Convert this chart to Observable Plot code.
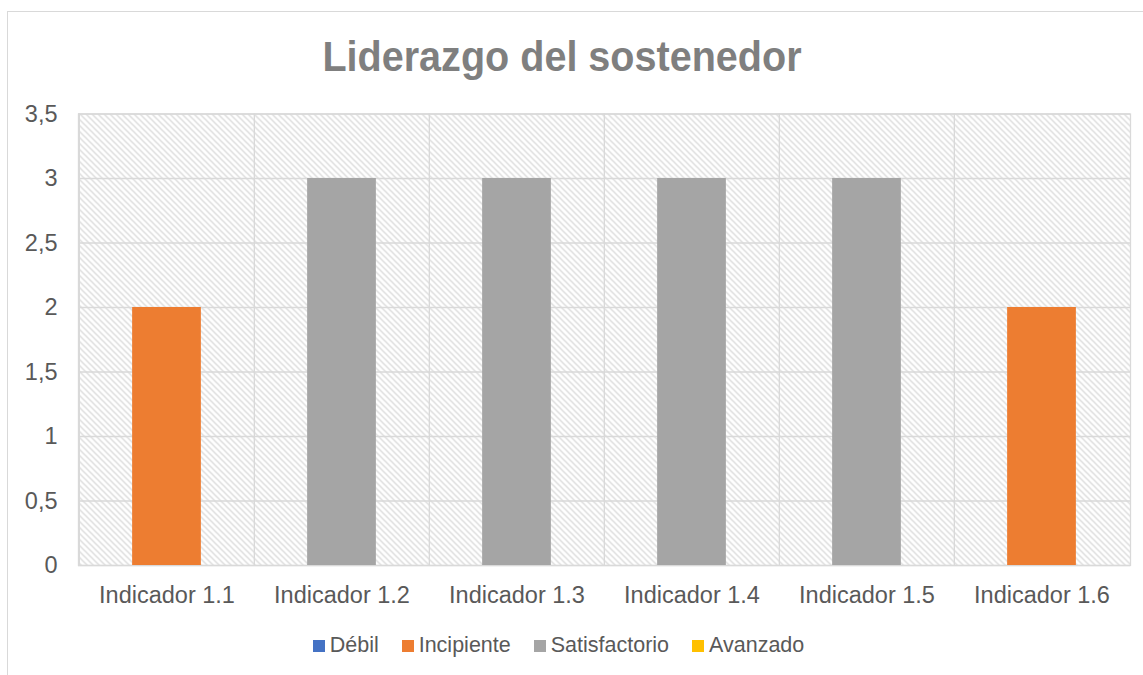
<!DOCTYPE html>
<html>
<head>
<meta charset="utf-8">
<script src="https://cdn.jsdelivr.net/npm/d3@7"></script>
<script src="https://cdn.jsdelivr.net/npm/@observablehq/plot@0.6"></script>
<style>
  html, body { margin: 0; padding: 0; background: #fff; overflow: hidden; }
  body { width: 1143px; height: 675px; position: relative; font-family: "Liberation Sans", Arial, sans-serif; }
  #border { position: absolute; left: 7px; top: 11px; width: 1200px; height: 700px; border-left: 1.5px solid #d9d9d9; border-top: 1.5px solid #d9d9d9; }
  #title { position: absolute; left: 0; top: 35.3px; width: 1124px; text-align: center; font-weight: bold; font-size: 43px; line-height: 43px; color: #7f7f7f; transform: scaleX(0.92); transform-origin: 562px 0; }
  #chart { position: absolute; left: 0; top: 100px; }
  #legend { position: absolute; left: 312.7px; top: 634.5px; font-size: 21.5px; line-height: 21.5px; color: #595959; white-space: nowrap; }
  .item { display: inline-block; margin-right: 23px; }
  .sw { display: inline-block; width: 12px; height: 12px; margin-right: 5px; vertical-align: baseline; }
</style>
</head>
<body>
<div id="border"></div>
<div id="title">Liderazgo del sostenedor</div>
<div id="chart"></div>
<div id="legend"></div>
<script>
const categories = ["Indicador 1.1", "Indicador 1.2", "Indicador 1.3", "Indicador 1.4", "Indicador 1.5", "Indicador 1.6"];
const levels = ["Débil", "Incipiente", "Satisfactorio", "Avanzado"];
const levelColors = ["#4472C4", "#ED7D31", "#A5A5A5", "#FFC000"];
const values = [2, 3, 3, 3, 3, 2];
const valueLevels = ["Incipiente", "Satisfactorio", "Satisfactorio", "Satisfactorio", "Satisfactorio", "Incipiente"];
const yTicks = [0, 0.5, 1, 1.5, 2, 2.5, 3, 3.5];

const data = categories.map((c, i) => ({indicador: c, valor: values[i], nivel: valueLevels[i]}));

const W = 1143, mL = 78, mR = 13;
const step = (W - mL - mR) / categories.length;
const inset = step * 0.303;
const grid = "#d9d9d9";

const plot = Plot.plot({
  width: W,
  height: 520,
  marginLeft: mL,
  marginRight: mR,
  marginTop: 13.5,
  marginBottom: 55,
  style: {fontFamily: '"Liberation Sans", Arial, sans-serif', fontSize: "23.5px", color: "#595959", background: "transparent", overflow: "visible"},
  x: {domain: categories, padding: 0, label: null, tickSize: 0, tickPadding: 21},
  y: {domain: [0, 3.5], ticks: yTicks, tickFormat: d => String(d).replace(".", ","), label: null, tickSize: 0, tickPadding: 21},
  color: {domain: levels, range: levelColors},
  marks: [
    Plot.frame({fill: "url(#hatch)", stroke: null}),
    Plot.ruleY(yTicks, {stroke: grid, strokeWidth: 1.3}),
    Plot.ruleX(categories, {dx: -step / 2, stroke: grid, strokeWidth: 1.3}),
    Plot.frame({stroke: grid, strokeWidth: 1.3}),
    Plot.barY(data, {x: "indicador", y: "valor", fill: "nivel", insetLeft: inset, insetRight: inset})
  ]
});

const ns = "http://www.w3.org/2000/svg";
const defs = document.createElementNS(ns, "defs");
defs.innerHTML = '<pattern id="hatch" patternUnits="userSpaceOnUse" width="6" height="6">' +
  '<rect width="6" height="6" fill="#ffffff"/>' +
  '<path d="M-1,-1L7,7M-1,5L1,7M5,-1L7,1" stroke="#d2d2d2" stroke-width="1.2" fill="none"/></pattern>';
plot.insertBefore(defs, plot.firstChild);
document.getElementById("chart").appendChild(plot);

const leg = document.getElementById("legend");
levels.forEach((l, i) => {
  const item = document.createElement("span");
  item.className = "item";
  const sw = document.createElement("span");
  sw.className = "sw";
  sw.style.background = levelColors[i];
  item.appendChild(sw);
  item.appendChild(document.createTextNode(l));
  leg.appendChild(item);
});
</script>
</body>
</html>
